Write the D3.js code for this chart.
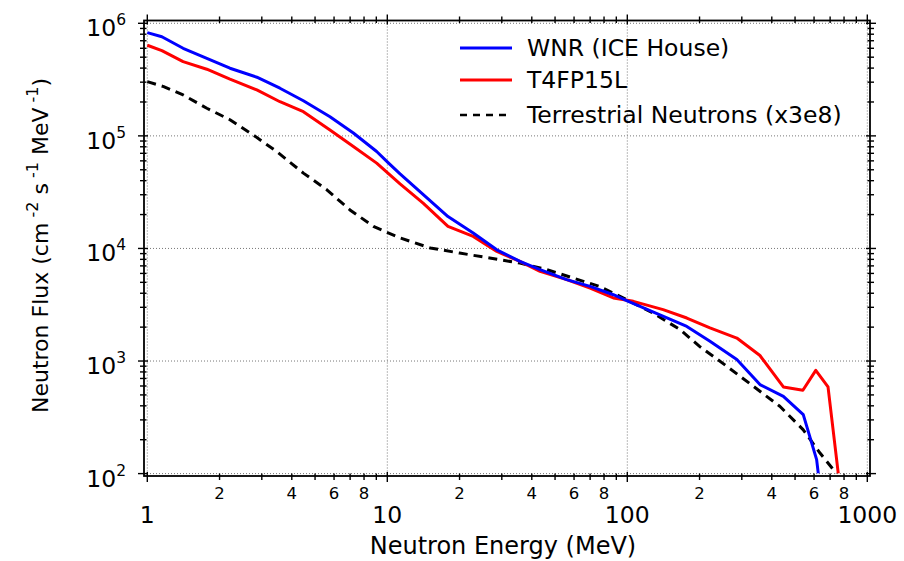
<!DOCTYPE html>
<html>
<head>
<meta charset="utf-8">
<script src="https://cdn.jsdelivr.net/npm/d3@7"></script>
<style>
  body { margin: 0; background: #fff; }
  svg { font-family: "DejaVu Sans", sans-serif; }
</style>
</head>
<body>
<svg id="chart" width="904" height="561"></svg>
<script>
// WNR (ICE House) beam spectrum
const wnrEnergy = [1, 1.15, 1.41, 1.77, 2.21, 2.86, 3.57, 4.47, 5.77, 7.22, 9.03, 10.1, 11.3, 17.9, 22.8, 28.6, 35.7, 43.3, 55.9, 70, 87.5, 101, 113, 177, 221, 286, 357, 447, 541, 615, 625];
const wnrFlux = [8.26e5, 7.6e5, 6.0e5, 4.89e5, 3.99e5, 3.32e5, 2.65e5, 2.05e5, 1.48e5, 1.06e5, 7.26e4, 5.76e4, 4.6e4, 1.92e4, 1.37e4, 9.73e3, 7.67e3, 6.48e3, 5.28e3, 4.6e3, 3.88e3, 3.39e3, 3.06e3, 2.03e3, 1.5e3, 1.03e3, 618, 486, 334, 133, 100];

// T4FP15L
const t4Energy = [1, 1.15, 1.41, 1.77, 2.21, 2.86, 3.57, 4.47, 5.77, 7.22, 9.03, 11.3, 14.1, 17.9, 22.8, 28.6, 35.7, 43.3, 55.9, 70, 87.5, 106, 141, 177, 221, 286, 357, 447, 539, 610, 686, 757];
const t4Flux = [6.38e5, 5.71e5, 4.56e5, 3.91e5, 3.19e5, 2.56e5, 2.01e5, 1.64e5, 1.13e5, 8.04e4, 5.73e4, 3.75e4, 2.53e4, 1.57e4, 1.28e4, 9.4e3, 7.67e3, 6.25e3, 5.28e3, 4.45e3, 3.63e3, 3.39e3, 2.86e3, 2.41e3, 1.97e3, 1.6e3, 1.12e3, 589, 550, 826, 589, 100];

// terrestrial neutrons, scaled x3e8
const terrEnergy = [1, 1.17, 1.41, 1.77, 2.21, 2.76, 3.46, 4.47, 5.6, 6.99, 8.75, 11.3, 15.1, 20, 26.7, 35.7, 46.2, 59.5, 76.6, 99.3, 128, 166, 200, 260, 335, 432, 540, 634, 745];
const terrFlux = [3.03e5, 2.74e5, 2.31e5, 1.76e5, 1.39e5, 1.02e5, 7.26e4, 4.67e4, 3.32e4, 2.2e4, 1.57e4, 1.24e4, 1.01e4, 9.1e3, 8.22e3, 7.41e3, 6.48e3, 5.46e3, 4.6e3, 3.51e3, 2.67e3, 1.9e3, 1.35e3, 897, 597, 396, 246, 153, 100];

const seriesNames = ["WNR (ICE House)", "T4FP15L", "Terrestrial Neutrons (x3e8)"];
const seriesColors = ["#0000ff", "#ff0000", "#000000"];

const xMajor = [1, 10, 100, 1000];
const xMinorLabels = [2, 4, 6, 8];
const yMajor = [1e2, 1e3, 1e4, 1e5, 1e6];

const svg = d3.select("#chart");

// frame sits a few px outside the data range, like the original
const frame = { left: 144, right: 870, top: 20.5, bottom: 476 };

const x = d3.scaleLog().domain([1, 1000]).range([147.3, 867.3]);
const y = d3.scaleLog().domain([100, 1e6]).range([473.6, 23.3]);

// minor tick positions 2..9 in each decade
const xMinor = d3.range(0, 3).flatMap(p => d3.range(2, 10).map(m => m * Math.pow(10, p)));
const yMinor = d3.range(2, 6).flatMap(p => d3.range(2, 10).map(m => m * Math.pow(10, p)));

// dotted grid at decades
const grid = svg.append("g")
    .attr("stroke", "#777")
    .attr("stroke-width", 1)
    .attr("stroke-dasharray", "1,2");

grid.selectAll(".gx")
    .data(xMajor)
    .enter().append("line")
    .attr("x1", d => x(d)).attr("x2", d => x(d))
    .attr("y1", frame.top).attr("y2", frame.bottom);

grid.selectAll(".gy")
    .data(yMajor)
    .enter().append("line")
    .attr("y1", d => y(d)).attr("y2", d => y(d))
    .attr("x1", frame.left).attr("x2", frame.right);

// series lines
svg.append("clipPath").attr("id", "clip")
    .append("rect")
    .attr("x", frame.left).attr("y", frame.top)
    .attr("width", frame.right - frame.left)
    .attr("height", y(100) - frame.top);

const line = d3.line().x(d => x(d[0])).y(d => y(d[1]));

const series = [
    { e: wnrEnergy, f: wnrFlux, dash: null },
    { e: t4Energy, f: t4Flux, dash: null },
    { e: terrEnergy, f: terrFlux, dash: "9,6" }
];

const plot = svg.append("g").attr("clip-path", "url(#clip)");

series.slice().reverse().forEach((s, j) => {
    const i = series.length - 1 - j;
    plot.append("path")
        .datum(d3.zip(s.e, s.f))
        .attr("fill", "none")
        .attr("stroke", seriesColors[i])
        .attr("stroke-width", 3)
        .attr("stroke-linejoin", "round")
        .attr("stroke-dasharray", s.dash)
        .attr("d", line);
});

// frame
svg.append("rect")
    .attr("x", frame.left).attr("y", frame.top)
    .attr("width", frame.right - frame.left)
    .attr("height", frame.bottom - frame.top)
    .attr("fill", "none")
    .attr("stroke", "#000")
    .attr("stroke-width", 1.8);

// crossing ticks on all four sides
const ticks = svg.append("g").attr("stroke", "#000").attr("stroke-width", 1.4);

function xTicks(vals, yPos, inward, outward, dir) {
    ticks.selectAll(null)
        .data(vals)
        .enter().append("line")
        .attr("x1", d => x(d)).attr("x2", d => x(d))
        .attr("y1", yPos - dir * inward).attr("y2", yPos + dir * outward);
}
function yTicks(vals, xPos, inward, outward, dir) {
    ticks.selectAll(null)
        .data(vals)
        .enter().append("line")
        .attr("y1", d => y(d)).attr("y2", d => y(d))
        .attr("x1", xPos + dir * inward).attr("x2", xPos - dir * outward);
}
xTicks(xMajor, frame.bottom, 4, 6, 1);
xTicks(xMinor, frame.bottom, 2.5, 4, 1);
xTicks(xMajor, frame.top, 4, 6, -1);
xTicks(xMinor, frame.top, 2.5, 4, -1);
yTicks(yMajor, frame.left, 4, 6, 1);
yTicks(yMinor, frame.left, 2.5, 4, 1);
yTicks(yMajor, frame.right, 4, 6, -1);
yTicks(yMinor, frame.right, 2.5, 4, -1);

// x tick labels
svg.selectAll(".xl")
    .data(xMajor)
    .enter().append("text")
    .attr("x", d => x(d))
    .attr("y", 523)
    .attr("text-anchor", "middle")
    .attr("font-size", 23.5)
    .text(d => d);

const xMinorVals = d3.range(0, 3).flatMap(p => xMinorLabels.map(m => m * Math.pow(10, p)));
svg.selectAll(".xm")
    .data(xMinorVals)
    .enter().append("text")
    .attr("x", d => x(d))
    .attr("y", 499)
    .attr("text-anchor", "middle")
    .attr("font-size", 16.5)
    .text(d => String(d)[0]);

// y tick labels 10^n
const yl = svg.selectAll(".yl")
    .data(yMajor)
    .enter().append("text")
    .attr("x", 126)
    .attr("y", d => y(d) + 13)
    .attr("text-anchor", "end")
    .attr("font-size", 23.5);
yl.append("tspan").text("10");
yl.append("tspan")
    .attr("font-size", 15.5)
    .attr("dy", -11)
    .text(d => Math.round(Math.log10(d)));

// axis titles
svg.append("text")
    .attr("x", 503)
    .attr("y", 554)
    .attr("text-anchor", "middle")
    .attr("font-size", 24)
    .text("Neutron Energy (MeV)");

const yt = svg.append("text")
    .attr("transform", "translate(48,413) rotate(-90)")
    .attr("text-anchor", "start")
    .attr("font-size", 22);
yt.append("tspan").text("Neutron Flux (cm");
yt.append("tspan").attr("font-size", 16).attr("dy", -10).text(" -2");
yt.append("tspan").attr("dy", 10).text(" s");
yt.append("tspan").attr("font-size", 16).attr("dy", -10).text(" -1");
yt.append("tspan").attr("dy", 10).text(" MeV");
yt.append("tspan").attr("font-size", 16).attr("dy", -10).text(" -1");
yt.append("tspan").attr("dy", 10).text(")");

// legend
const legendY = [48, 80, 115];
const legend = svg.selectAll(".legend")
    .data(seriesNames)
    .enter().append("g")
    .attr("class", "legend")
    .attr("transform", (d, i) => "translate(0," + legendY[i] + ")");

legend.append("line")
    .attr("x1", 460).attr("x2", 512)
    .attr("stroke", (d, i) => seriesColors[i])
    .attr("stroke-width", (d, i) => i === 2 ? 2.5 : 3)
    .attr("stroke-dasharray", (d, i) => i === 2 ? "7,6" : null);

legend.append("text")
    .attr("x", 527)
    .attr("dy", "0.35em")
    .attr("font-size", 23.5)
    .text(d => d);
</script>
</body>
</html>
